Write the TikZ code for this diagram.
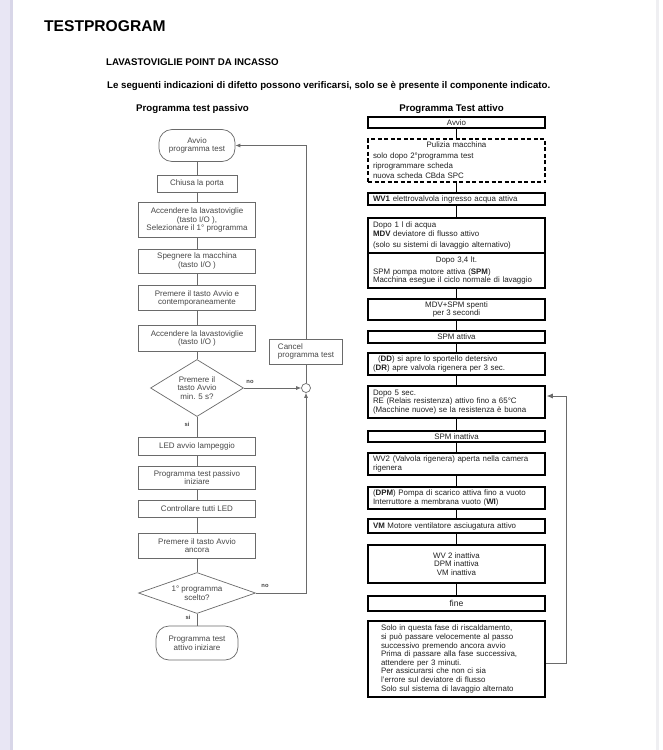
\documentclass[tikz,border=0pt]{standalone}
\usepackage{fontspec}
\setmainfont{Liberation Sans}
\usetikzlibrary{arrows.meta,shapes.geometric}
\definecolor{lav}{HTML}{E8E6F4}
\definecolor{lavdark}{HTML}{D8D6E8}
\definecolor{edgegray}{HTML}{EFEFF2}
\definecolor{lline}{HTML}{6A6A6A}
\definecolor{ltext}{HTML}{474747}
\definecolor{rtext}{HTML}{222222}
\newcommand{\leftfnt}{\fontsize{8}{8.7}\selectfont}
\newcommand{\rightfnt}{\fontsize{7.9}{8.6}\selectfont}
\newcommand{\headfnt}{\bfseries\fontsize{9.7}{11}\selectfont}
\begin{document}
\begin{tikzpicture}[x=1pt,y=-1pt,
  lbox/.style={draw=lline, line width=0.7pt, fill=white, inner sep=1pt, align=center, font=\leftfnt, text=ltext},
  lround/.style={lbox, rounded corners=13pt},
  ldia/.style={lbox, diamond, inner sep=0pt},
  lconn/.style={draw=lline, line width=0.8pt},
  larrow/.style={lconn, -{Latex[length=5pt,width=4pt]}},
  rbox/.style={draw=black, line width=1.5pt, fill=white, minimum width=177pt, inner xsep=5pt, inner ysep=0.5pt, font=\rightfnt, text=rtext},
  rleft/.style={rbox, align=left, text width=167pt},
  rcent/.style={rbox, align=center},
  rconn/.style={draw=black, line width=1.5pt},
  lbl/.style={font=\bfseries\fontsize{5.8}{6}\selectfont, text=ltext, inner sep=0pt},
  head/.style={font=\headfnt, inner sep=0pt, anchor=base west}
]
\useasboundingbox (0,0) rectangle (663,750);
\fill[white] (0,0) rectangle (663,750);
\fill[lav] (0,0) rectangle (10,750);
\fill[lavdark] (10,0) rectangle (13,750);
\fill[edgegray] (656,0) rectangle (659,750);

% headings
\node[head, font=\bfseries\fontsize{15.6}{17}\selectfont] (title) at (44,31) {TESTPROGRAM};
\node[head] (sub) at (106,65) {LAVASTOVIGLIE POINT DA INCASSO};
\node[head] (intro) at (107,88) {Le seguenti indicazioni di difetto possono verificarsi, solo se è presente il componente indicato.};
\node[head] (hpass) at (136,111) {Programma test passivo};
\node[head, anchor=base] (hatt) at (451.5,111) {Programma Test attivo};

% left flowchart
\node[lround, minimum width=76, minimum height=32] (avvio) at (197,145.5) {Avvio\\programma test};
\node[lbox, minimum width=80, minimum height=17] (chiusa) at (197,183.5) {Chiusa la porta};
\node[lbox, minimum width=117, minimum height=35] (acc1) at (197,220) {Accendere la lavastoviglie\\(tasto I/O ),\\Selezionare il 1° programma};
\node[lbox, minimum width=117, minimum height=24] (speg) at (197,261) {Spegnere la macchina\\(tasto I/O )};
\node[lbox, minimum width=117, minimum height=25] (prem) at (197,298.3) {Premere il tasto Avvio e\\contemporaneamente};
\node[lbox, minimum width=117, minimum height=26] (acc2) at (197,338.3) {Accendere la lavastoviglie\\(tasto I/O )};
\node[ldia, aspect=1.63, minimum width=93, minimum height=57] (d1) at (197,388) {Premere il\\tasto Avvio\\min. 5 s?};
\node[lbox, minimum width=117, minimum height=18] (led) at (197,446) {LED avvio lampeggio};
\node[lbox, minimum width=117, minimum height=23] (prog) at (197,477.5) {Programma test passivo\\iniziare};
\node[lbox, minimum width=117, minimum height=17] (contr) at (197,508.5) {Controllare tutti LED};
\node[lbox, minimum width=117, minimum height=25] (prem2) at (197,545.5) {Premere il tasto Avvio\\ancora};
\node[ldia, aspect=2.85, minimum width=117, minimum height=41] (d2) at (197,593) {1° programma\\scelto?};
\node[lround, minimum width=82, minimum height=34] (fin) at (197,643) {Programma test\\attivo iniziare};
\node[circle, draw=lline, line width=0.7pt, fill=white, minimum size=9, inner sep=0pt] (junc) at (306,388) {};

\draw[lconn] (avvio) -- (chiusa);
\draw[lconn] (chiusa) -- (acc1);
\draw[lconn] (acc1) -- (speg);
\draw[lconn] (speg) -- (prem);
\draw[lconn] (prem) -- (acc2);
\draw[lconn] (acc2) -- (d1);
\draw[lconn] (d1) -- (led);
\draw[lconn] (led) -- (prog);
\draw[lconn] (prog) -- (contr);
\draw[lconn] (contr) -- (prem2);
\draw[lconn] (prem2) -- (d2);
\draw[lconn] (d2) -- (fin);
\draw[larrow] (d1.east) -- (junc.west);
\draw[larrow] (d2.east) -| (junc.south);
\draw[larrow] (junc.north) |- (avvio.east);

\node[lbox, align=left, minimum width=73, minimum height=25, inner xsep=5pt] (cancel) at (306,351.5) {Cancel\\programma test};

\node[lbl] (no1) at (250,381.5) {no};
\node[lbl] (si1) at (187,424) {si};
\node[lbl] (no2) at (265,586) {no};
\node[lbl] (si2) at (188,617) {si};

% right flowchart
\node[rcent, minimum height=11] (ravvio) at (456.5,122.5) {Avvio};
\node[rleft, minimum height=43, dash pattern=on 4pt off 2.5pt] (pulizia) at (456.5,160.5) {\makebox[167pt]{Pulizia macchina}\\[1.8pt]solo dopo 2°programma test\\[1.8pt]riprogrammare scheda\\[1.8pt]nuova scheda CBda SPC};
\node[rleft, minimum height=12] (wv1) at (456.5,199) {\textbf{WV1} elettrovalvola ingresso acqua attiva};
\node[rleft, minimum height=35] (mdv) at (456.5,235.5) {Dopo 1 l di acqua\\\textbf{MDV} deviatore di flusso attivo\\[2.5pt](solo su sistemi di lavaggio alternativo)};
\node[rleft, minimum height=35] (spm) at (456.5,270.5) {\makebox[167pt]{Dopo 3,4 lt.}\\[3pt]SPM pompa motore attiva (\textbf{SPM})\\Macchina esegue il ciclo normale di lavaggio};
\node[rcent, minimum height=21] (mdvspm) at (456.5,309.5) {MDV+SPM spenti\\per 3 secondi};
\node[rcent, minimum height=12] (spmatt) at (456.5,337) {SPM attiva};
\node[rleft, minimum height=22] (dd) at (456.5,364) {\hspace*{5pt}(\textbf{DD}) si apre lo sportello detersivo\\(\textbf{DR}) apre valvola rigenera per 3 sec.};
\node[rleft, minimum height=32] (dopo5) at (456.5,402) {Dopo 5 sec.\\RE (Relais resistenza) attivo fino a 65°C\\(Macchine nuove) se la resistenza è buona};
\node[rcent, minimum height=11] (spminatt) at (456.5,436.5) {SPM inattiva};
\node[rleft, minimum height=22] (wv2) at (456.5,464) {WV2 (Valvola rigenera) aperta nella camera\\rigenera};
\node[rleft, minimum height=22] (dpm) at (456.5,498) {(\textbf{DPM}) Pompa di scarico attiva fino a vuoto\\Interruttore a membrana vuoto (\textbf{WI})};
\node[rleft, minimum height=14] (vm) at (456.5,526) {\textbf{VM} Motore ventilatore asciugatura attivo};
\node[rcent, minimum height=38] (inatt) at (456.5,564) {WV 2 inattiva\\DPM inattiva\\VM inattiva};
\node[rcent, minimum height=15, font=\fontsize{8.6}{9}\selectfont] (fine) at (456.5,603.5) {fine};
\node[rbox, align=left, inner xsep=13pt, text width=151pt, minimum height=76] (info) at (456.5,659) {Solo in questa fase di riscaldamento,\\si può passare velocemente al passo\\successivo premendo ancora avvio\\Prima di passare alla fase successiva,\\attendere per 3 minuti.\\Per assicurarsi che non ci sia\\l'errore sul deviatore di flusso\\Solo sul sistema di lavaggio alternato};

\draw[rconn] (ravvio) -- (pulizia);
\draw[rconn] (pulizia) -- (wv1);
\draw[rconn] (wv1) -- (mdv);
\draw[rconn] (spm) -- (mdvspm);
\draw[rconn] (mdvspm) -- (spmatt);
\draw[rconn] (spmatt) -- (dd);
\draw[rconn] (dd) -- (dopo5);
\draw[rconn] (dopo5) -- (spminatt);
\draw[rconn] (spminatt) -- (wv2);
\draw[rconn] (wv2) -- (dpm);
\draw[rconn] (dpm) -- (vm);
\draw[rconn] (vm) -- (inatt);
\draw[rconn] (inatt) -- (fine);

\coordinate (loopA) at (566,663);
\coordinate (loopB) at (566,396);
\draw[draw=lline, line width=0.8pt, -{Latex[length=6pt,width=5pt]}] (info.east |- loopA) -- (loopA) -- (loopB) -- ([xshift=1pt]dopo5.east |- loopB);
\end{tikzpicture}
\end{document}
